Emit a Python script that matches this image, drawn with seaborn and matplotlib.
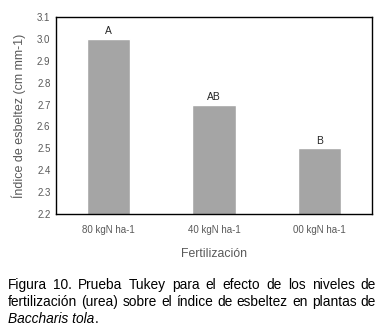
import matplotlib
matplotlib.use("Agg")
import matplotlib.pyplot as plt
import seaborn as sns
import pandas as pd

categories = ["80 kgN ha-1", "40 kgN ha-1", "00 kgN ha-1"]
values = [3.0, 2.7, 2.5]
letters = ["A", "AB", "B"]
yticks = [2.2, 2.3, 2.4, 2.5, 2.6, 2.7, 2.8, 2.9, 3.0, 3.1]
xlabel = "Fertilización"
ylabel = "Índice de esbeltez (cm mm-1)"
caption_lines = [
    [("Figura 10. Prueba Tukey para el efecto de los niveles de", "normal")],
    [("fertilización (urea) sobre el índice de esbeltez en plantas de", "normal")],
    [("Baccharis tola", "italic"), (".", "normal")],
]

sns.set_theme(style="white")
plt.rcParams["font.family"] = ["Liberation Sans", "DejaVu Sans"]

W, H = 382, 334
fig = plt.figure(figsize=(W / 100, H / 100), dpi=100)
ax = fig.add_axes([56 / W, 1 - 214 / H, (372 - 56) / W, (214 - 17) / H])

df = pd.DataFrame({"cat": categories, "val": values})
sns.barplot(data=df, x="cat", y="val", order=categories, color="#A5A5A5",
            saturation=1, width=0.41, ax=ax)
ax.set_ylim(2.2, 3.1)
ax.set_yticks(yticks)
ax.set_yticklabels([f"{v:.1f}" for v in yticks])
ax.tick_params(axis="both", length=0, labelsize=7, colors="#595959", pad=4)
ax.tick_params(axis="x", pad=8)
for s in ax.spines.values():
    s.set_visible(True)
    s.set_color("black")
    s.set_linewidth(1.0)
ax.set_xlabel(xlabel, fontsize=8.8, color="#595959", labelpad=9)
ax.set_ylabel(ylabel, fontsize=9, color="#595959", labelpad=8)

for p, lab in zip(ax.patches, letters):
    ax.annotate(lab, (p.get_x() + p.get_width() / 2, p.get_height()),
                xytext=(0, 2), textcoords="offset points", ha="center",
                va="bottom", fontsize=7.4, color="#262626")

# Justified caption
renderer = fig.canvas.get_renderer()
x0, x1 = 8, 376
probe = fig.text(0, 0, caption_lines[1][0][0], fontsize=10)
wprobe = probe.get_window_extent(renderer).width
probe.remove()
fs = 10 * (x1 - x0 - 4) / wprobe
baselines = [289, 306, 323]
for li, line in enumerate(caption_lines):
    yb = 1 - baselines[li] / H
    justify = li < len(caption_lines) - 1
    if justify:
        words = line[0][0].split(" ")
        objs = []
        total = 0
        for w in words:
            t = fig.text(0, yb, w, fontsize=fs, color="black", va="baseline")
            total += t.get_window_extent(renderer).width
            objs.append(t)
        gap = (x1 - x0 - total) / (len(words) - 1)
        x = x0
        for t in objs:
            t.set_x(x / W)
            x += t.get_window_extent(renderer).width + gap
    else:
        x = x0
        for txt, style in line:
            t = fig.text(x / W, yb, txt, fontsize=fs, style=style,
                         color="black", va="baseline")
            x += t.get_window_extent(renderer).width

fig.savefig("out.png", dpi=100)
